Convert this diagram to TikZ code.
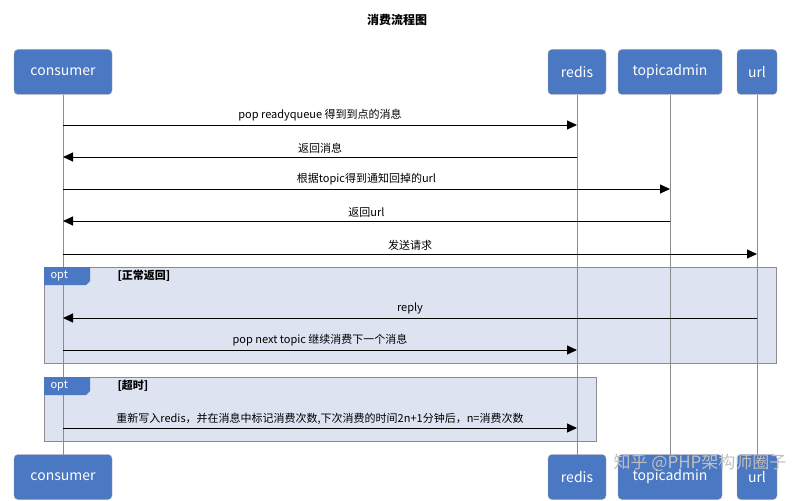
\documentclass[tikz,border=0pt]{standalone}
\usepackage{fontspec}
\setmainfont{Noto Sans CJK SC}
\usetikzlibrary{arrows.meta}
\definecolor{actorblue}{HTML}{4A78C2}
\definecolor{framefill}{HTML}{DDE3F1}
\tikzset{
  actor/.style={draw=black!35,fill=actorblue,rounded corners=4pt,text=white,font=\fontsize{14}{16}\selectfont,minimum height=45pt,inner xsep=6pt},
  msg/.style={-{Triangle[length=10pt,width=9pt]},line width=1pt},
  lbl/.style={font=\fontsize{11}{13}\selectfont,above=0pt},
  lifeline/.style={draw=black!45,line width=1pt},
  frame/.style={draw=black!45,fill=framefill,line width=1pt},
  tab/.style={fill=actorblue},
}
\begin{document}
\begin{tikzpicture}[x=1pt,y=-1pt]
\useasboundingbox (0,0) rectangle (794,500);
\node[font=\bfseries\fontsize{12}{14}\selectfont] (title) at (397,20) {消费流程图};
% lifelines
\foreach \x in {63,577,670,757}{
  \draw[lifeline] (\x,95) -- (\x,455);
}
% frames
\draw[frame] (44,267) rectangle (776,363);
\draw[frame] (44,377) rectangle (596,441);
\draw[lifeline] (63,267) -- (63,441);
\draw[lifeline] (577,267) -- (577,441);
\draw[lifeline] (670,267) -- (670,363);
\draw[lifeline] (757,267) -- (757,363);
\foreach \y in {267,377}{
  \fill[tab] (44,\y) -- (90,\y) -- (90,\y+14) -- (86,\y+18) -- (44,\y+18) -- cycle;
  \node[text=white,font=\fontsize{11}{12}\selectfont,anchor=west] at (47,\y+9) {opt};
}
\node[font=\bfseries\fontsize{11}{12}\selectfont,anchor=west] (g1) at (114,276) {[正常返回]};
\node[font=\bfseries\fontsize{11}{12}\selectfont,anchor=west] (g2) at (114,386) {[超时]};
% actors
\node[actor,minimum width=98pt] (consumer) at (63,72) {consumer};
\node[actor,minimum width=58pt] (redis) at (577,72) {redis};
\node[actor,minimum width=104pt] (topicadmin) at (670,72) {topicadmin};
\node[actor,minimum width=40pt,inner xsep=2pt] (url) at (757,72) {url};
\node[actor,minimum width=98pt] (consumer2) at (63,477) {consumer};
\node[actor,minimum width=58pt] (redis2) at (577,477) {redis};
\node[actor,minimum width=104pt] (topicadmin2) at (670,477) {topicadmin};
\node[actor,minimum width=40pt,inner xsep=2pt] (url2) at (757,477) {url};
% messages
\coordinate (c1) at (63,125); \coordinate (r1) at (577,125);
\draw[msg] (c1) -- node[lbl]{pop readyqueue 得到到点的消息} (r1);
\coordinate (c2) at (63,157); \coordinate (r2) at (577,157);
\draw[msg] (r2) -- node[lbl]{返回消息} (c2);
\coordinate (c3) at (63,189); \coordinate (t3) at (670,189);
\draw[msg] (c3) -- node[lbl]{根据topic得到通知回掉的url} (t3);
\coordinate (c4) at (63,221); \coordinate (t4) at (670,221);
\draw[msg] (t4) -- node[lbl]{返回url} (c4);
\coordinate (c5) at (63,254); \coordinate (u5) at (757,254);
\draw[msg] (c5) -- node[lbl]{发送请求} (u5);
\coordinate (c6) at (63,318); \coordinate (u6) at (757,318);
\draw[msg] (u6) -- node[lbl]{reply} (c6);
\coordinate (c7) at (63,350); \coordinate (r7) at (577,350);
\draw[msg] (c7) -- node[lbl]{pop next topic 继续消费下一个消息} (r7);
\coordinate (c8) at (63,428); \coordinate (r8) at (577,428);
\draw[msg] (c8) -- node[lbl]{重新写入redis，并在消息中标记消费次数,下次消费的时间2n+1分钟后，n=消费次数} (r8);
% watermark
\node[text=black!25,font=\fontsize{17}{19}\selectfont,anchor=east] (wm) at (790,463) {知乎 @PHP架构师圈子};
\end{tikzpicture}
\end{document}
